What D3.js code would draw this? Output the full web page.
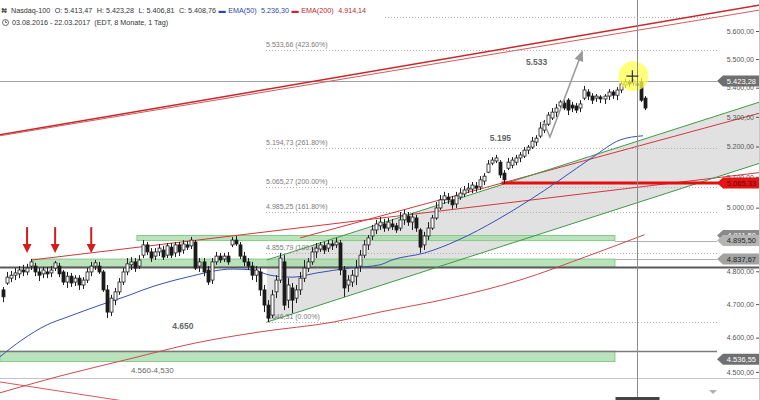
<!DOCTYPE html>
<html><head><meta charset="utf-8">
<script src="https://cdn.jsdelivr.net/npm/d3@7"></script>
<style>body{margin:0;background:#fff}svg{display:block;font-family:"Liberation Sans",Arial,sans-serif}</style>
</head><body><svg id="c" width="760" height="400"></svg>
<script>
// ---------- DATA ----------
const opens=[4743,4764,4779,4788,4792,4804,4798,4816,4816,4798,
4792,4798,4795,4810,4816,4798,4767,4785,4767,4779,
4758,4773,4798,4816,4816,4798,4743,4676,4712,4737,
4767,4798,4820,4829,4816,4850,4882,4860,4847,4860,
4866,4850,4875,4857,4882,4866,4882,4879,4891,4816,
4829,4804,4773,4829,4847,4838,4847,4882,4897,4882,
4847,4829,4816,4788,4798,4743,4697,4667,4737,4773,
4829,4712,4749,4718,4743,4779,4810,4829,4860,4869,
4879,4872,4885,4882,4888,4804,4758,4767,4785,4816,
4850,4882,4910,4929,4942,4948,4935,4948,4942,4935,
4961,4973,4954,4967,4929,4882,4910,4935,4967,4999,
5025,5034,5025,5012,5034,5044,5057,5060,5070,5067,
5086,5115,5145,5152,5148,5112,5128,5138,5148,5162,
5168,5188,5198,5215,5235,5255,5275,5296,5316,5337,
5347,5357,5340,5337,5330,5364,5385,5371,5364,5368,
5361,5371,5385,5374,5392,5409,5420,5416,5413,5420,
5364];
const highs=[4752,4798,4801,4810,4816,4820,4823,4838,4826,4810,
4813,4813,4816,4832,4826,4804,4798,4795,4788,4788,
4782,4810,4829,4835,4829,4804,4758,4728,4749,4779,
4810,4841,4844,4841,4850,4897,4891,4872,4872,4885,
4879,4888,4888,4891,4891,4897,4894,4907,4897,4841,
4841,4816,4841,4860,4857,4857,4860,4907,4910,4891,
4860,4841,4829,4816,4810,4758,4712,4743,4788,4857,
4850,4779,4764,4758,4798,4835,4841,4875,4888,4891,
4891,4897,4897,4904,4897,4816,4788,4804,4835,4866,
4897,4913,4945,4961,4970,4964,4967,4964,4951,4986,
4993,4986,4983,4977,4935,4923,4954,4977,5018,5041,
5051,5047,5038,5051,5063,5070,5080,5083,5083,5102,
5112,5155,5165,5172,5155,5122,5162,5165,5172,5182,
5198,5205,5232,5238,5282,5289,5316,5330,5344,5357,
5357,5364,5351,5347,5357,5406,5395,5381,5378,5374,
5378,5395,5392,5402,5423,5430,5427,5430,5423,5434,
5371];
const lows=[4706,4758,4767,4773,4779,4785,4788,4804,4785,4770,
4779,4779,4782,4801,4782,4758,4749,4752,4755,4743,
4746,4764,4785,4804,4792,4737,4658,4664,4697,4728,
4758,4788,4804,4798,4807,4841,4850,4829,4835,4847,
4835,4841,4841,4844,4847,4854,4866,4869,4804,4798,
4785,4758,4761,4820,4826,4829,4820,4875,4879,4838,
4816,4804,4773,4767,4725,4676,4646,4658,4718,4764,
4682,4688,4673,4703,4728,4767,4798,4820,4841,4860,
4854,4860,4866,4872,4788,4722,4737,4752,4758,4798,
4841,4866,4897,4916,4929,4923,4926,4929,4920,4926,
4945,4942,4929,4923,4857,4866,4897,4929,4961,4993,
5012,5012,4996,4999,5025,5034,5047,5047,5051,5057,
5073,5112,5138,5145,5096,5077,5122,5128,5138,5148,
5162,5175,5192,5202,5228,5245,5269,5289,5299,5323,
5323,5306,5316,5313,5316,5357,5357,5344,5351,5347,
5344,5357,5361,5357,5381,5399,5402,5406,5406,5351,
5323];
const closes=[4722,4782,4788,4795,4804,4798,4810,4829,4798,4788,
4804,4792,4804,4826,4792,4767,4785,4764,4779,4758,
4773,4798,4816,4826,4798,4743,4676,4718,4737,4767,
4798,4823,4829,4810,4835,4882,4860,4841,4860,4872,
4844,4879,4850,4882,4860,4885,4875,4897,4810,4829,
4798,4767,4829,4847,4835,4847,4829,4897,4885,4847,
4829,4816,4788,4804,4743,4697,4658,4728,4773,4841,
4697,4758,4712,4743,4779,4810,4829,4860,4872,4882,
4866,4885,4879,4891,4804,4749,4773,4788,4810,4850,
4882,4904,4929,4948,4954,4935,4954,4939,4929,4961,
4980,4954,4970,4935,4875,4910,4935,4967,4999,5025,
5038,5025,5009,5038,5047,5057,5063,5073,5063,5090,
5102,5142,5155,5162,5106,5090,5148,5155,5162,5172,
5188,5198,5218,5228,5262,5275,5306,5316,5330,5351,
5330,5323,5330,5323,5344,5392,5371,5357,5371,5361,
5371,5385,5374,5392,5413,5420,5413,5423,5408,5357,
5330];

const ema50Idx=[-0.75,4.7,11,16,24.2,31.7,34.9,45.9,57.4,62.3,66.6,72.3,78.3,86.5,94,97,105.2,113.5,123.2,131.4,138.9,147.1,153.9,159.6];
const ema50Val=[4544,4593,4638,4661,4697,4728,4743,4782,4807,4804,4788,4782,4795,4810,4820,4835,4857,4897,4961,5025,5090,5165,5222,5236];
const ema200Idx=[-0.75,14.2,31.7,47.9,64.1,82.3,94,111.5,128.9,146.4,160];
const ema200Val=[4440,4488,4538,4584,4617,4646,4676,4718,4773,4850,4914];

const yTicks=[4500,4600,4700,4800,4900,5000,5100,5200,5300,5400,5500,5600];

const fibVals=[5648.91,5533.66,5194.73,5065.27,4985.25,4855.79,4646.31];
const fibPct=["478.60%","423.60%","261.80%","200.00%","161.80%","100.00%","0.00%"];

// trend lines: [startIdx,startVal,endIdx,endVal]
const redTop1=[-0.75,5239,188.8,5694];
const redTop2=[-0.75,5236,188.8,5676];
const redL1=[7.2,4835,188.8,5114];
const redL2=[74.1,4904,188.8,5313];
const redLowLeft=[-0.75,4471,34,4410];
const greenUp=[65.8,4835,188.8,5351];
const greenLo=[65.8,4646,188.8,5145];

// support/resistance zones: [fromIdx,toIdx,low,high]
const zoneA=[33.4,152.6,4895.5,4911.5];
const zoneB=[7.2,152.6,4813,4837.67];
const zoneC=[-0.75,152.6,4530,4560];

const crossIdx=158, crossVal=5423.28;
const redLevelIdx=124.3, redLevelVal=5080;
const bottomLevel=4482;

const priceBoxes=[
 {v:5423.28,t:"5.423,28",fill:"#6f6f6f",col:"#fff"},
 {v:5080,t:"5.065,33",fill:"#e41414",col:"#6a0000"},
 {v:4911.5,t:"4.911,50",fill:"#8a8a8a",col:"#fff"},
 {v:4895.5,t:"4.895,50",fill:"#b4b4b4",col:"#222"},
 {v:4837.67,t:"4.837,67",fill:"#a2a2a2",col:"#222"},
 {v:4536.55,t:"4.536,55",fill:"#707070",col:"#fff"}
];

const arrowIdx=[6,13,22], arrowTopVal=4938, arrowTipVal=4857;
const notes=[
 {i:130.4,v:5478,t:"5.533"},
 {i:121.4,v:5218,t:"5.195"},
 {i:42.2,v:4627,t:"4.650"},
 {i:31.9,v:4496,t:"4.560-4,530"}
];
const vArrowIdx=[134.7,136.4,144.4], vArrowVal=[5286,5232,5525];
const highlight={i:157.2,v:5440};

const headerParts=[
 {t:"Nasdaq-100",c:"#333"},{t:"O: 5.413,47",c:"#333"},{t:"H: 5.423,28",c:"#333"},
 {t:"L: 5.406,81",c:"#333"},{t:"C: 5.408,76",c:"#333"},
 {t:"\u25AC",c:"#2f45b0"},{t:"EMA(50)",c:"#2f45b0"},{t:"5.236,30",c:"#2f45b0"},
 {t:"\u25AC",c:"#c0282b"},{t:"EMA(200)",c:"#c0282b"},{t:"4.914,14",c:"#c0282b"}
];
const subHeader="03.08.2016 - 22.03.2017  (EDT, 8 Monate, 1 Tag)";

// ---------- CHART ----------
const svg=d3.select("#c");
const PR=717, RIGHT=759;
const x=d3.scaleLinear().domain([0,160]).range([3,644.6]);
const y=d3.scaleLog().domain([4500,5600]).range([371.9,31]);
const de=d3.formatLocale({decimal:",",thousands:".",grouping:[3],currency:["",""]});
const f2=de.format(",.2f");
const line=d3.line().x(d=>x(d[0])).y(d=>y(d[1]));

// channel fill
svg.append("path").attr("d",line([[greenUp[0],greenUp[1]],[greenUp[2],greenUp[3]],[greenLo[2],greenLo[3]],[greenLo[0],greenLo[1]]])+"Z")
 .attr("fill","#dcdcdc").attr("opacity",0.85);

// zones
[zoneA,zoneB,zoneC].forEach(z=>{
 svg.append("rect").attr("x",x(z[0])).attr("width",x(z[1])-x(z[0]))
  .attr("y",y(z[3])).attr("height",y(z[2])-y(z[3]))
  .attr("fill","#a9dcaa").attr("fill-opacity",0.8).attr("stroke","#86c889").attr("stroke-width",1);
});

// fib levels
fibVals.forEach((v,k)=>{
 const x0 = k===0 ? 385 : x(65.6);
 svg.append("line").attr("x1",x0).attr("x2",PR).attr("y1",Math.round(y(v))+0.5).attr("y2",Math.round(y(v))+0.5)
  .attr("stroke","#b0b0b0").attr("stroke-dasharray","1,2");
 if(k>0) svg.append("text").attr("x",x(65.6)).attr("y",y(v)-3).attr("font-size",7).attr("fill","#7a7a7a")
  .text(f2(v)+" ("+fibPct[k]+")");
});

// horizontal level lines
const hl=(v,x1,x2,col,w)=>svg.append("line").attr("x1",x1).attr("x2",x2)
 .attr("y1",Math.round(y(v))+0.5).attr("y2",Math.round(y(v))+0.5).attr("stroke",col).attr("stroke-width",w);
hl(crossVal,0,PR,"#a0a0a0",1);
hl(zoneA[2],x(zoneA[1]),PR,"#b0b0b0",1);
hl(zoneB[3],x(zoneB[1]),PR,"#b0b0b0",1);
hl(zoneB[2],0,RIGHT,"#5a5a5a",2);
hl(zoneC[3],0,PR,"#7a7a7a",1.5);
hl(bottomLevel,0,RIGHT,"#c4c4c4",1);

// trend lines
const tl=(a,col,w)=>svg.append("path").attr("d",line([[a[0],a[1]],[a[2],a[3]]])).attr("fill","none").attr("stroke",col).attr("stroke-width",w);
tl(redTop1,"#c7272a",1.5);
tl(redTop2,"#d55a5c",1);
tl(redL1,"#d0393c",1);
tl(redL2,"#d0393c",1);
tl(redLowLeft,"#d55a5c",1);
tl(greenUp,"#3f9a47",1);
tl(greenLo,"#3f9a47",1);

// thick red level
svg.append("line").attr("x1",x(redLevelIdx)).attr("x2",RIGHT).attr("y1",y(redLevelVal)).attr("y2",y(redLevelVal))
 .attr("stroke","#e50d0d").attr("stroke-width",3);

// EMAs
const cl=d3.line().curve(d3.curveMonotoneX).x(d=>x(d[0])).y(d=>y(d[1]));
svg.append("path").attr("d",cl(ema200Idx.map((d,k)=>[d,ema200Val[k]]))).attr("fill","none").attr("stroke","#cc4a4d").attr("stroke-width",1);
svg.append("path").attr("d",cl(ema50Idx.map((d,k)=>[d,ema50Val[k]]))).attr("fill","none").attr("stroke","#3a4fb0").attr("stroke-width",1);

// candles
const cg=svg.append("g");
closes.forEach((c,i)=>{
 const o=opens[i], cx=Math.round(x(i))+0.5, up=c>=o;
 cg.append("line").attr("x1",cx).attr("x2",cx).attr("y1",y(highs[i])).attr("y2",y(lows[i])).attr("stroke","#1e1e1e").attr("stroke-width",1);
 const top=y(Math.max(o,c)), bot=y(Math.min(o,c));
 cg.append("rect").attr("x",cx-1.5).attr("width",3).attr("y",top).attr("height",Math.max(1,bot-top))
  .attr("fill",up?"#fff":"#1a1a1a").attr("stroke","#1e1e1e").attr("stroke-width",0.8);
});

// notes
notes.forEach((n,k)=>svg.append("text").attr("x",x(n.i)).attr("y",y(n.v)).attr("font-size",k<3?8.5:8)
 .attr("font-weight",k<3?"bold":"normal").attr("fill","#666").text(n.t));

// red arrows
arrowIdx.forEach(i=>{
 const cx=x(i), t=y(arrowTopVal), b=y(arrowTipVal);
 svg.append("line").attr("x1",cx).attr("x2",cx).attr("y1",t).attr("y2",b-7).attr("stroke","#d41c1c").attr("stroke-width",2);
 svg.append("path").attr("d",`M${cx-4.5},${b-9}L${cx+4.5},${b-9}L${cx},${b}Z`).attr("fill","#d41c1c");
});

// grey V arrow
const vpts=vArrowIdx.map((d,k)=>[x(d),y(vArrowVal[k])]);
svg.append("path").attr("d",d3.line()(vpts)).attr("fill","none").attr("stroke","#9a9a9a").attr("stroke-width",1.6);
{
 const [a,b]=[vpts[1],vpts[2]]; const ang=Math.atan2(b[1]-a[1],b[0]-a[0]);
 const L=9,Wd=4.5;
 const p1=[b[0]-L*Math.cos(ang)+Wd*Math.sin(ang), b[1]-L*Math.sin(ang)-Wd*Math.cos(ang)];
 const p2=[b[0]-L*Math.cos(ang)-Wd*Math.sin(ang), b[1]-L*Math.sin(ang)+Wd*Math.cos(ang)];
 svg.append("path").attr("d",`M${b[0]+2*Math.cos(ang)},${b[1]+2*Math.sin(ang)}L${p1}L${p2}Z`).attr("fill","#9a9a9a");
}

// highlight + crosshair
svg.append("circle").attr("cx",x(highlight.i)).attr("cy",y(highlight.v)).attr("r",15).attr("fill","#ffff4d").attr("opacity",0.75);
const chx=Math.round(x(crossIdx))+0.5;
svg.append("line").attr("x1",chx).attr("x2",chx).attr("y1",0).attr("y2",400).attr("stroke","#8c8c8c").attr("stroke-width",1);
{
 const hx=x(highlight.i)-1, hy=y(highlight.v);
 svg.append("path").attr("d",`M${hx-6},${hy}H${hx+6}M${hx},${hy-6}V${hy+6}`).attr("stroke","#333").attr("stroke-width",1.2);
}
svg.append("rect").attr("x",chx-22).attr("y",397).attr("width",44).attr("height",3).attr("fill","#444");

// right axis
const ax=svg.append("g").attr("transform",`translate(${RIGHT},0)`)
 .call(d3.axisLeft(y).tickValues(yTicks).tickFormat(f2).tickSize(3).tickPadding(2));
ax.select(".domain").remove();
ax.selectAll("text").attr("font-size",7).attr("fill","#555").attr("font-family","'Liberation Sans',Arial,sans-serif");
ax.selectAll("line").attr("stroke","#555");
svg.append("line").attr("x1",RIGHT+0.5).attr("x2",RIGHT+0.5).attr("y1",0).attr("y2",400).attr("stroke","#c8c8c8");

// price boxes
priceBoxes.forEach(b=>{
 const yy=y(b.v);
 svg.append("path").attr("d",`M${PR},${yy}L${PR+6},${yy-5.5}H${RIGHT}V${yy+5.5}H${PR+6}Z`).attr("fill",b.fill);
 svg.append("text").attr("x",RIGHT-3).attr("y",yy+2.6).attr("text-anchor","end").attr("font-size",7.5).attr("fill",b.col).text(b.t);
});

// bottom chevron icon
svg.append("path").attr("d","M709,390L717,390L713,394Z").attr("fill","#b0b0b0");

// header
const hdr=svg.append("g").attr("font-size",7.2).attr("fill","#333");
hdr.append("text").attr("x",1.5).attr("y",13).attr("font-weight","bold").attr("fill","#555").text("\u20A6");
const ht=hdr.append("text").attr("x",11).attr("y",13).attr("xml:space","preserve");
headerParts.forEach((p,k)=>ht.append("tspan").attr("fill",p.c).attr("dx",k===0?0:(p.t==="\u25AC"||headerParts[k-1].t==="\u25AC"?2.5:4.5)).text(p.t));
hdr.append("circle").attr("cx",5.5).attr("cy",22.5).attr("r",3).attr("fill","none").attr("stroke","#555").attr("stroke-width",0.9);
hdr.append("path").attr("d","M5.5,20.5V22.5H7").attr("fill","none").attr("stroke","#555").attr("stroke-width",0.8);
hdr.append("text").attr("x",12).attr("y",25).attr("xml:space","preserve").text(subHeader);
</script></body></html>
